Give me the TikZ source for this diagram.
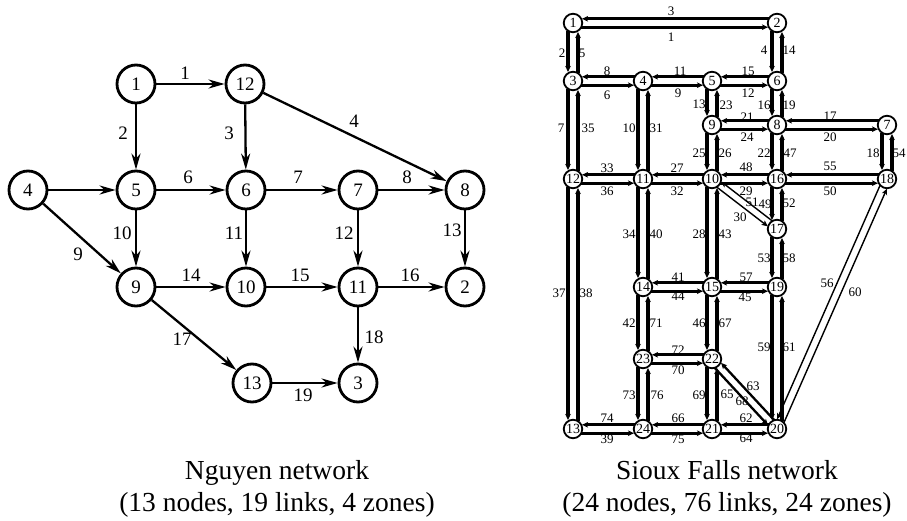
\documentclass[tikz,border=0pt]{standalone}
\usepackage{fontspec}
\setmainfont{Liberation Serif}
\usetikzlibrary{arrows.meta,calc}
\newcommand{\slnk}[4][]{\draw[slk,#1] ($(#2)!8pt!(#3)!#4!-90:(#3)$) -- ($(#3)!9pt!(#2)!#4!90:(#2)$);}
\begin{document}
\begin{tikzpicture}[x=1pt,y=-1pt,
  nnode/.style={circle,draw,line width=2.8pt,minimum size=38pt,inner sep=0pt,font=\fontsize{19}{22}\selectfont},
  nedge/.style={line width=2.3pt,-{Stealth[length=16pt,width=9pt,inset=5pt]}},
  nlab/.style={font=\fontsize{19}{22}\selectfont,inner sep=0pt},
  snode/.style={circle,draw,fill=white,line width=1.8pt,minimum size=18.5pt,inner sep=0pt,font=\fontsize{14}{14}\selectfont},
  slk/.style={line width=2.9pt,-{Stealth[length=6pt,width=5.5pt,inset=1.5pt]}},
  slab/.style={font=\fontsize{13}{13}\selectfont,inner sep=0pt},
  captxt/.style={align=center,font=\fontsize{27.5}{32}\selectfont}]
\useasboundingbox (0,0) rectangle (907,521);
% ---------------- Nguyen network ----------------
\foreach \n/\x/\y in {1/136/84,12/245/84,4/28/190,5/136/190,6/246/190,7/358/190,8/465/190,
  9/136/287,10/246/287,11/358/287,2/465/287,13/252/383,3/358/383}
  \node[nnode] (n\n) at (\x,\y) {\n};
\foreach \a/\b in {1/12,1/5,12/6,12/8,4/5,4/9,5/6,5/9,6/7,6/10,7/8,7/11,8/2,9/10,9/13,10/11,11/2,11/3,13/3}
  \draw[nedge] (n\a) -- (n\b);
\foreach \t/\x/\y in {1/185/73,2/123/133,3/229/133,4/354/121,6/188/177,7/298/177,8/407/177,
  9/78/254,10/122/233,11/234/233,12/344/233,13/452/230,14/191/275,15/300/275,16/410/275,
  17/182/339,18/374/337,19/303/395}
  \node[nlab] (nl\t) at (\x,\y) {\t};
\node[captxt] (ncap) at (277,489) {Nguyen network\\(13 nodes, 19 links, 4 zones)};
% ---------------- Sioux Falls network ----------------
\foreach \n/\x/\y in {1/573/23,2/777/23,3/573/81,4/643/81,5/712/81,6/777/81,7/887/125,8/777/125,
  9/712/125,10/712/179,11/643/179,12/573/179,13/573/429,14/643/287,15/712/287,16/777/179,
  17/777/229,18/887/179,19/777/287,20/777/429,21/712/429,22/712/359,23/643/359,24/643/429}
  \node[snode] (s\n) at (\x,\y) {\n};
% horizontal links
\foreach \a/\b in {1/2,2/1,3/4,4/3,4/5,5/4,5/6,6/5,7/8,8/7,8/9,9/8,10/11,11/10,10/16,16/10,
  11/12,12/11,16/18,18/16,14/15,15/14,15/19,19/15,22/23,23/22,13/24,24/13,21/24,24/21,20/21,21/20}
  \slnk{s\a}{s\b}{4.2pt};
% vertical links
\foreach \a/\b in {1/3,3/1,2/6,6/2,3/12,12/3,4/11,11/4,5/9,9/5,6/8,8/6,7/18,18/7,8/16,16/8,
  9/10,10/9,10/15,15/10,11/14,14/11,12/13,13/12,16/17,17/16,17/19,19/17,14/23,23/14,15/22,22/15,
  19/20,20/19,21/22,22/21,23/24,24/23}
  \slnk[line width=3.1pt]{s\a}{s\b}{5pt};
% diagonal links
\slnk[line width=1.4pt]{s10}{s17}{3.5pt}
\slnk[line width=1.4pt]{s17}{s10}{3.5pt}
\slnk[line width=1.4pt]{s18}{s20}{3.8pt}
\slnk[line width=1.4pt]{s20}{s18}{3.8pt}
\slnk[line width=2.3pt]{s20}{s22}{4pt}
\slnk[line width=2.3pt]{s22}{s20}{4pt}
\foreach \t/\x/\y in {3/671/11,1/671/37,2/562/53,5/582/53,8/607/71,6/607/95,11/680/71,9/678/93,
  13/699/104,23/726/105,7/561/128,35/588/128,10/629/128,31/656/128,4/764/50,14/789/50,
  15/748/71,12/748/93,16/764/105,19/789/105,21/747/117,24/747/137,17/830/116,20/830/137,
  25/699/153,26/725/153,22/764/153,47/790/153,18/873/153,54/899/153,33/607/168,36/607/191,
  27/677/168,32/677/191,48/746/167,29/746/191,55/830/166,50/830/191,51/752/202,49/765/204,
  52/789/203,30/740/217,34/629/234,40/656/234,28/699/234,43/725/234,53/764/258,58/789/258,
  41/678/277,44/678/296,57/746/277,45/745/297,37/559/293,38/586/293,56/827/283,60/855/292,
  42/629/323,71/656/323,46/699/323,67/725/323,59/764/347,61/789/347,72/678/350,70/678/370,
  73/629/395,76/657/395,69/699/395,65/727/394,63/753/386,68/742/401,74/607/418,66/678/418,
  62/746/418,39/607/439,75/678/439,64/746/438}
  \node[slab] (sl\t) at (\x,\y) {\t};
\node[captxt] (scap) at (727,489) {Sioux Falls network\\(24 nodes, 76 links, 24 zones)};
\end{tikzpicture}
\end{document}
